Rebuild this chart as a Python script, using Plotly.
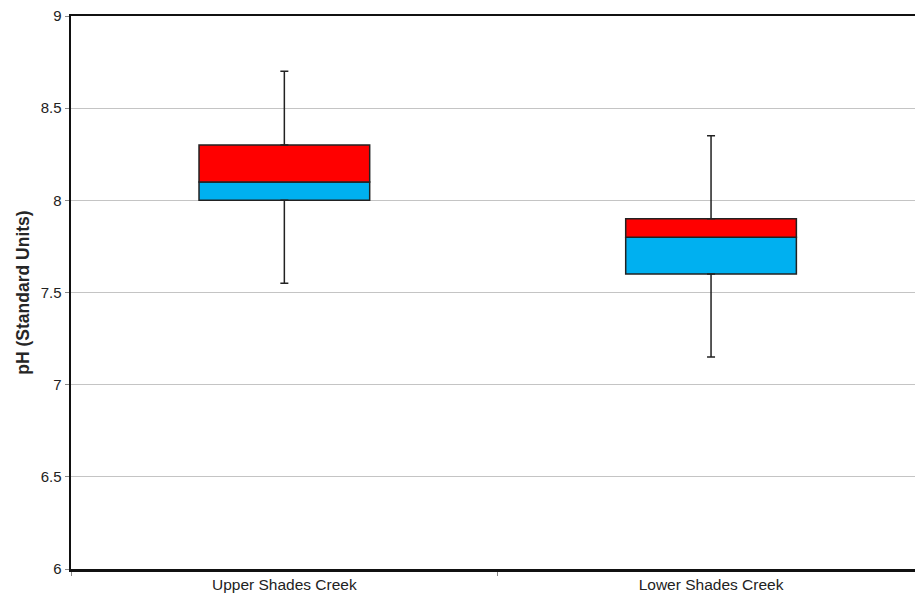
import plotly.graph_objects as go

sites = ["Upper Shades Creek", "Lower Shades Creek"]
minimum = [7.55, 7.15]
q1 = [8.0, 7.6]
median = [8.1, 7.8]
q3 = [8.3, 7.9]
maximum = [8.7, 8.35]

y_ticks = [6, 6.5, 7, 7.5, 8, 8.5, 9]
y_title = "pH (Standard Units)"

lower_part = [m - a for m, a in zip(median, q1)]
upper_part = [b - m for b, m in zip(q3, median)]
whisker_low = [a - mn for a, mn in zip(q1, minimum)]
whisker_high = [mx - b for mx, b in zip(maximum, q3)]

fig = go.Figure()
fig.add_trace(go.Bar(x=sites, y=lower_part, base=q1, width=0.4,
                     marker=dict(color="#00B0F0", line=dict(color="#222222", width=1.5)),
                     showlegend=False, hoverinfo="skip"))
fig.add_trace(go.Bar(x=sites, y=upper_part, base=median, width=0.4,
                     marker=dict(color="#FF0000", line=dict(color="#222222", width=1.5)),
                     showlegend=False, hoverinfo="skip"))
fig.add_trace(go.Scatter(x=sites, y=q1, mode="markers", marker=dict(size=0.1, opacity=0),
                         error_y=dict(type="data", symmetric=False, array=[0, 0],
                                      arrayminus=whisker_low, color="#222222",
                                      thickness=1.5, width=4),
                         showlegend=False, hoverinfo="skip"))
fig.add_trace(go.Scatter(x=sites, y=q3, mode="markers", marker=dict(size=0.1, opacity=0),
                         error_y=dict(type="data", symmetric=False, array=whisker_high,
                                      arrayminus=[0, 0], color="#222222",
                                      thickness=1.5, width=4),
                         showlegend=False, hoverinfo="skip"))

fig.update_layout(
    width=915, height=601,
    margin=dict(l=71, r=0, t=16, b=32),
    paper_bgcolor="white", plot_bgcolor="white",
    barmode="overlay",
    font=dict(family="Liberation Sans, Arial, sans-serif", color="#222222"),
    xaxis=dict(type="category", range=[-0.5, 1.478], showgrid=False,
               showline=True, linecolor="#111111", linewidth=2.5, mirror=True,
               ticks="outside", tickson="boundaries", ticklen=4, tickcolor="#888888",
               tickfont=dict(size=15.5), fixedrange=True),
    yaxis=dict(range=[6, 9], tickvals=y_ticks, ticktext=[f"{v:g}" for v in y_ticks],
               showgrid=True, gridcolor="#C4C4C4", gridwidth=1,
               showline=True, linecolor="#111111", linewidth=2.5,
               ticks="outside", ticklen=4, tickcolor="#888888",
               tickfont=dict(size=15), zeroline=False, fixedrange=True,
               title=dict(text="<b>" + y_title + "</b>", font=dict(size=17.5, color="#262626"),
                          standoff=7)),
)

fig.write_html("out.html", config={"displayModeBar": False, "staticPlot": True},
               post_script="document.body.style.margin='0';document.body.style.overflow='hidden';")
